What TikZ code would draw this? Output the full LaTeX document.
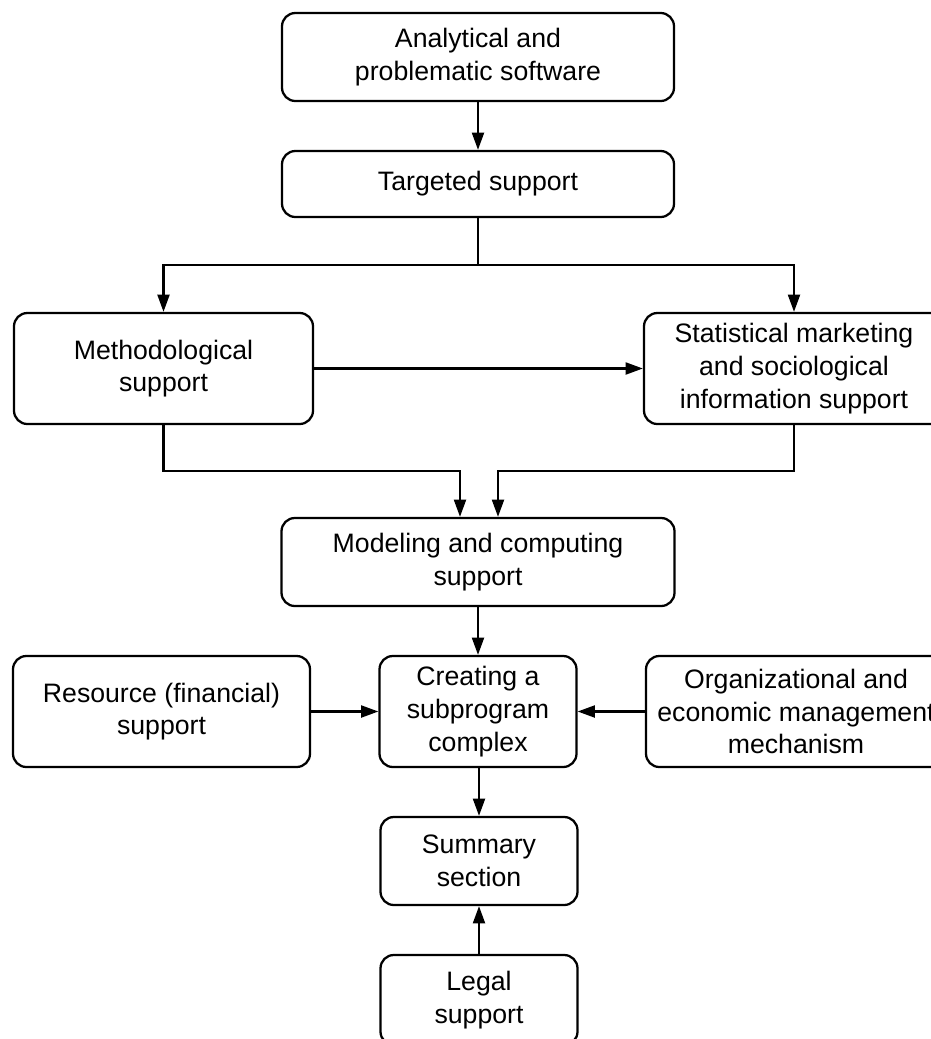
\documentclass[tikz,border=0pt]{standalone}
\usepackage{fontspec}
\setmainfont{Liberation Sans}
\usetikzlibrary{arrows.meta}
\tikzset{
  box/.style={draw, line width=1.7pt, rounded corners=10pt, inner sep=0pt,
    align=center, font=\fontsize{20}{24.5}\selectfont},
  arr/.style={line width=1.7pt, -{Triangle[length=13pt,width=9pt]}},
  ln/.style={line width=1.7pt},
}
\begin{document}
\begin{tikzpicture}[x=0.75pt,y=-0.75pt]
\useasboundingbox (0,0) rectangle (931,1039);
\node[box, minimum width=294pt, minimum height=66pt] (b1) at (478,57) {Analytical and\\problematic software};
\node[box, minimum width=294pt, minimum height=49.5pt] (b2) at (478,184) {Targeted support};
\node[box, minimum width=224.25pt, minimum height=83.25pt] (meth) at (163.5,368.5) {Methodological\\support};
\node[box, minimum width=225pt, minimum height=83.25pt] (stat) at (794,368.5) {Statistical marketing\\and sociological\\information support};
\node[box, minimum width=294.75pt, minimum height=66pt] (model) at (478,562) {Modeling and computing\\support};
\node[box, minimum width=222.75pt, minimum height=83.25pt] (res) at (161.5,711.5) {Resource (financial)\\support};
\node[box, minimum width=147.75pt, minimum height=83.25pt] (create) at (478,711.5) {Creating a\\subprogram\\complex};
\node[box, minimum width=225pt, minimum height=83.25pt] (org) at (796,711.5) {Organizational and\\economic management\\mechanism};
\node[box, minimum width=147.75pt, minimum height=66pt] (sum) at (479,861) {Summary\\section};
\node[box, minimum width=147.75pt, minimum height=67.5pt] (legal) at (479,1000) {Legal\\support};
\coordinate (j1) at (478,265);
\coordinate (ml) at (460,471);
\coordinate (mr) at (498,471);
\draw[arr] (b1.south) -- (b2.north);
\draw[ln] (b2.south) -- (j1);
\draw[arr] (j1) -| (meth.north);
\draw[arr] (j1) -| (stat.north);
\draw[arr] (meth.east) -- (stat.west);
\draw[arr] (meth.south) |- (ml) -- (ml |- model.north);
\draw[arr] (stat.south) |- (mr) -- (mr |- model.north);
\draw[arr] (model.south) -- (create.north);
\draw[arr] (res.east) -- (create.west);
\draw[arr] (org.west) -- (create.east);
\draw[arr] (create.south -| sum.north) -- (sum.north);
\draw[arr] (legal.north) -- (sum.south);
\end{tikzpicture}
\end{document}
